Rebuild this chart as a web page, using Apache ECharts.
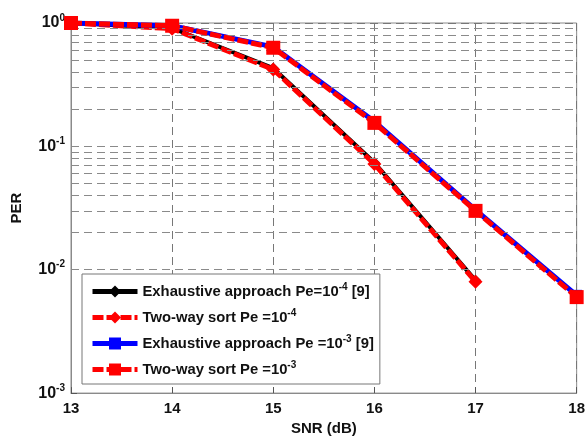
<!DOCTYPE html>
<html><head><meta charset="utf-8">
<script src="https://cdn.jsdelivr.net/npm/echarts@6/dist/echarts.min.js"></script>
<style>html,body{margin:0;padding:0;background:#fff}#c{width:588px;height:441px}</style>
</head><body><div id="c"></div>
<script>
const snr = [13, 14, 15, 16, 17, 18];
const exh4 = [1.0, 0.91, 0.43, 0.074, 0.0082, null];
const tws4 = [1.0, 0.90, 0.42, 0.072, 0.0080, null];
const exh3 = [1.0, 0.95, 0.64, 0.159, 0.0305, 0.0062];
const tws3 = [1.0, 0.95, 0.63, 0.155, 0.0300, 0.0060];
const minorGrid = [0.002,0.003,0.004,0.005,0.006,0.007,0.008,0.009,0.01,
  0.02,0.03,0.04,0.05,0.06,0.07,0.08,0.09,0.1,
  0.2,0.3,0.4,0.5,0.6,0.7,0.8,0.9];
const names = ['Exhaustive approach Pe=10^-4 [9]','Two-way sort Pe =10^-4','Exhaustive approach Pe =10^-3 [9]','Two-way sort Pe =10^-3'];

const font = 'Liberation Sans, Arial, sans-serif';
function pairs(arr){ return snr.map((x,i)=>arr[i]==null?null:[x,arr[i]]).filter(p=>p); }
function legendFmt(n){
  const m = n.match(/^(.*10)\^(-\d)(.*)$/);
  return '{t|' + m[1] + '}{s|' + m[2] + '}{t|' + m[3] + '}';
}
const chart = echarts.init(document.getElementById('c'), null, {renderer:'canvas'});
chart.setOption({
  animation:false,
  backgroundColor:'#fff',
  grid:{left:71,right:10,top:23,bottom:46,show:true,borderColor:'#8a8a8a',borderWidth:1,backgroundColor:'#fff'},
  legend:{
    orient:'vertical', left:82, top:274, itemWidth:45, itemHeight:15, itemGap:9,
    padding:[8,6,7,8],
    backgroundColor:'#fff', borderColor:'#777', borderWidth:1, borderRadius:0,
    data:names,
    lineStyle:{width:5},
    formatter: legendFmt,
    textStyle:{fontFamily:font,fontSize:14.8,fontWeight:'bold',color:'#111',
      rich:{t:{fontFamily:font,fontSize:14.8,fontWeight:'bold',color:'#111'},
            s:{fontFamily:font,fontSize:10,fontWeight:'bold',color:'#111',verticalAlign:'bottom',padding:[0,0,9,0]}}}
  },
  xAxis:{type:'value',min:13,max:18,interval:1,
    name:'SNR (dB)',nameLocation:'middle',nameGap:24,
    nameTextStyle:{fontFamily:font,fontSize:15,fontWeight:'bold',color:'#111'},
    axisLine:{lineStyle:{color:'#8a8a8a'}},
    axisTick:{inside:true,length:6,lineStyle:{color:'#555'}},
    axisLabel:{fontFamily:font,fontSize:15,fontWeight:'bold',color:'#111',margin:8},
    splitLine:{show:true,lineStyle:{color:'#777',type:[8,5],width:1}}},
  yAxis:{type:'log',logBase:10,min:0.001,max:1,
    name:'PER',nameLocation:'middle',nameGap:47,nameRotate:90,
    nameTextStyle:{fontFamily:font,fontSize:15,fontWeight:'bold',color:'#111'},
    axisLine:{show:true,lineStyle:{color:'#8a8a8a'}},
    axisTick:{inside:true,length:6,lineStyle:{color:'#555'}},
    axisLabel:{margin:6,fontFamily:font,
      formatter:function(v){const e=Math.round(Math.log10(v));return '{b|10}{s|'+e+'}';},
      rich:{b:{fontFamily:font,fontSize:16,fontWeight:'bold',color:'#111'},
            s:{fontFamily:font,fontSize:10,fontWeight:'bold',color:'#111',verticalAlign:'bottom',padding:[0,0,10,0]}}},
    splitLine:{show:true,lineStyle:{color:'#777',type:[8,5],width:1}}},
  series:[
    {name:names[0],type:'line',data:pairs(exh4),symbol:'diamond',symbolSize:11,
     lineStyle:{color:'#000',width:4},itemStyle:{color:'#000'},z:2,
     markLine:{silent:true,symbol:'none',label:{show:false},
       lineStyle:{color:'#8a8a8a',type:[8,5],width:1},
       data:minorGrid.map(v=>({yAxis:v}))}},
    {name:names[1],type:'line',data:pairs(tws4),symbol:'diamond',symbolSize:14,
     lineStyle:{color:'#ff0000',width:5,type:[11,3]},itemStyle:{color:'#ff0000'},z:3},
    {name:names[2],type:'line',data:pairs(exh3),symbol:'rect',symbolSize:11,
     lineStyle:{color:'#0000ff',width:5},itemStyle:{color:'#0000ff'},z:4},
    {name:names[3],type:'line',data:pairs(tws3),symbol:'rect',symbolSize:14,
     lineStyle:{color:'#ff0000',width:5,type:[11,3]},itemStyle:{color:'#ff0000'},z:5}
  ]
});
</script></body></html>
